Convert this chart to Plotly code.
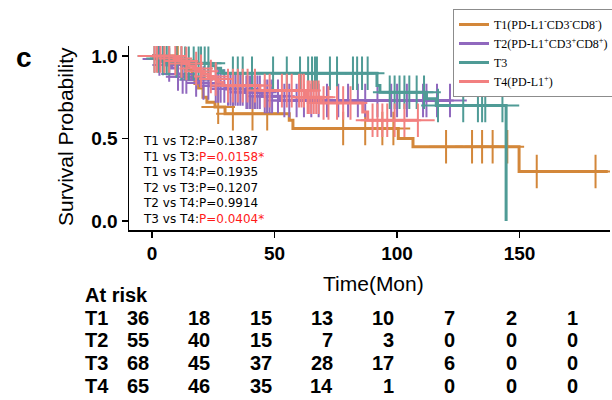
import numpy as np
import plotly.graph_objects as go

# ---------------- data ----------------
group_names = [
    "T1(PD-L1<sup>-</sup>CD3<sup>-</sup>CD8<sup>-</sup>)",
    "T2(PD-L1<sup>+</sup>CD3<sup>+</sup>CD8<sup>+</sup>)",
    "T3",
    "T4(PD-L1<sup>+</sup>)",
]
group_colors = ["#d3873a", "#9068be", "#4f9b96", "#f28080"]

t1_times = [0, 9, 12, 15, 16.3, 17.5, 19, 20.8, 22.4, 25.7, 29.8, 56, 57.5, 100.5, 106.5, 149.8, 186]
t1_surv = [1.0, 0.972, 0.944, 0.917, 0.861, 0.833, 0.806, 0.75, 0.72, 0.69, 0.65, 0.61, 0.56, 0.50, 0.45, 0.30, 0.30]
t1_cens = [5, 10.5, 27, 33, 41, 47, 78, 87, 94, 98.5, 120, 130.6, 134.7, 139, 145, 157, 181]

t2_times = [0, 2, 4, 6, 8, 10, 12, 15, 19, 24, 30, 38, 45, 52, 121.6]
t2_surv = [1.0, 0.982, 0.964, 0.945, 0.927, 0.891, 0.873, 0.855, 0.836, 0.818, 0.80, 0.78, 0.755, 0.73, 0.73]
t2_cens = [3, 7, 10.6, 12.5, 14, 18, 21, 23, 26, 27, 28, 29.5, 31, 32, 33, 34, 35, 36, 37, 38.5,
           39, 40, 41, 42, 43, 44, 46, 47, 48, 49, 51.4, 54, 56, 59, 62, 65, 68, 71.4, 76, 80,
           84, 87, 92, 97.6, 100, 104, 110.6, 112, 116.3, 121.6]

t3_times = [0, 4, 8, 11, 24, 26, 28, 29, 91.8, 93, 112, 116, 144.5]
t3_surv = [1.0, 0.985, 0.97, 0.955, 0.94, 0.925, 0.91, 0.895, 0.82, 0.78, 0.74, 0.70, 0.0]
t3_cens = [1, 2.5, 4.5, 6, 7, 10, 12, 13.5, 15, 17, 19, 20, 21.5, 23, 33, 35, 37, 40.8, 49.4, 55,
           60.4, 63.7, 65.3, 66.5, 67.3, 72.6, 75.5, 82, 83.7, 85.7, 88, 97, 99, 101, 103, 105,
           108, 111, 116.7, 127, 133, 134.7, 136, 143]

t4_times = [0, 9, 11, 13, 15, 17, 19, 21, 23, 25, 27, 29, 44, 63, 69, 86, 88, 108.5]
t4_surv = [1.0, 0.985, 0.969, 0.954, 0.938, 0.923, 0.907, 0.89, 0.875, 0.86, 0.84, 0.82, 0.79, 0.75, 0.715, 0.66, 0.61, 0.61]
t4_cens = [1, 2, 3.5, 5, 7, 9.5, 12, 14, 18, 20, 24, 26, 31, 33, 35, 37, 39, 42, 46, 48, 53, 55,
           57, 60, 61, 62, 63.5, 64, 65, 66, 67, 68, 70, 72, 75.5, 78, 81, 90, 92, 94, 96, 99,
           103, 108.5]

risk_labels = ["T1", "T2", "T3", "T4"]
risk_times = [0, 25, 50, 75, 100, 125, 150, 175]
risk_t1 = [36, 18, 15, 13, 10, 7, 2, 1]
risk_t2 = [55, 40, 15, 7, 3, 0, 0, 0]
risk_t3 = [68, 45, 37, 28, 17, 6, 0, 0]
risk_t4 = [65, 46, 35, 14, 1, 0, 0, 0]

pval_pairs = ["T1 vs T2:", "T1 vs T3:", "T1 vs T4:", "T2 vs T3:", "T2 vs T4:", "T3 vs T4:"]
pval_texts = ["P=0.1387", "P=0.0158*", "P=0.1935", "P=0.1207", "P=0.9914", "P=0.0404*"]
pval_sig = [False, True, False, False, False, True]

x_ticks = [0, 50, 100, 150]
y_ticks = [0.0, 0.5, 1.0]

# ---------------- figure ----------------
groups = [
    (t1_times, t1_surv, t1_cens),
    (t2_times, t2_surv, t2_cens),
    (t3_times, t3_surv, t3_cens),
    (t4_times, t4_surv, t4_cens),
]

fig = go.Figure()
for (times, surv, cens), name, color in zip(groups, group_names, group_colors):
    fig.add_trace(go.Scatter(
        x=times, y=surv, mode="lines", line=dict(shape="hv", color=color, width=3),
        name=name, showlegend=True, hoverinfo="skip"))
    tarr = np.asarray(times)
    sarr = np.asarray(surv)
    idx = np.searchsorted(tarr, np.asarray(cens), side="right") - 1
    cy = sarr[idx]
    fig.add_trace(go.Scatter(
        x=cens, y=cy, mode="markers", showlegend=False, hoverinfo="skip",
        marker=dict(symbol="cross-thin", size=24, color=color,
                    line=dict(color=color, width=2))))

L, R, T, B = 129, 2, 46, 170
W, H = 612, 400
pw = W - L - R
ph = H - T - B


def px_to_paper_x(px):
    return (px - L) / pw


def px_to_paper_y(py):
    return (H - B - py) / ph


def label(text, px, py, size, xanchor="center", yanchor="middle", angle=0, family="Liberation Sans",
          xref="paper", xval=None, xshift=0):
    return dict(text=text, x=px_to_paper_x(px) if xval is None else xval, y=px_to_paper_y(py),
                xref=xref, yref="paper", xanchor=xanchor, yanchor=yanchor, textangle=angle,
                showarrow=False, xshift=xshift, align="left",
                font=dict(family=family, size=size, color="black"))


annotations = []
annotations.append(label("<b>c</b>", 24, 57, 28))
annotations.append(label("Survival Probability", 65, 137, 21, angle=-90))
annotations.append(label("Time(Mon)", 373, 283, 21))

lines = []
for pair, txt, sig in zip(pval_pairs, pval_texts, pval_sig):
    if sig:
        lines.append(pair + "<span style='color:#ff1a1a'>" + txt + "</span>")
    else:
        lines.append(pair + txt)
annotations.append(label("<br>".join(lines), 141, 132, 12, xanchor="left", yanchor="top",
                         family="DejaVu Sans"))

annotations.append(label("<b>At risk</b>", 83, 295, 20, xanchor="left"))
row_y = [318, 340, 363, 386]
for lab, vals, ry in zip(risk_labels, [risk_t1, risk_t2, risk_t3, risk_t4], row_y):
    annotations.append(label("<b>" + lab + "</b>", 83, ry, 20, xanchor="left"))
    for t, v in zip(risk_times, vals):
        annotations.append(label("<b>%d</b>" % v, 0, ry, 20, xanchor="right", xref="x", xval=t, xshift=-1))

fig.update_layout(
    width=W, height=H,
    margin=dict(l=L, r=R, t=T, b=B, autoexpand=False),
    paper_bgcolor="white", plot_bgcolor="white",
    showlegend=True,
    hovermode=False,
    legend=dict(x=px_to_paper_x(453), y=px_to_paper_y(9), xanchor="left", yanchor="top",
                bgcolor="white", bordercolor="#8c8c8c", borderwidth=1,
                font=dict(family="Liberation Serif", size=12, color="black"),
                itemwidth=30, tracegroupgap=0),
    annotations=annotations,
    xaxis=dict(range=[-9.4, 186.9], tickvals=x_ticks, ticks="outside", ticklen=6, tickwidth=1.5,
               tickcolor="black", showline=True, linecolor="black", linewidth=1.5, showgrid=False,
               zeroline=False, automargin=False,
               tickfont=dict(family="Liberation Sans", size=19, color="black", weight="bold")),
    yaxis=dict(range=[-0.0545, 1.06], tickvals=y_ticks, tickformat=".1f", ticks="outside", ticklen=6,
               tickwidth=1.5, tickcolor="black", showline=True, linecolor="black", linewidth=1.5,
               showgrid=False, zeroline=False, automargin=False,
               tickfont=dict(family="Liberation Sans", size=19, color="black", weight="bold")),
)

fig.write_html("out.html", config={"displayModeBar": False, "staticPlot": True},
               post_script="document.body.style.margin='0';document.body.style.overflow='hidden';")
